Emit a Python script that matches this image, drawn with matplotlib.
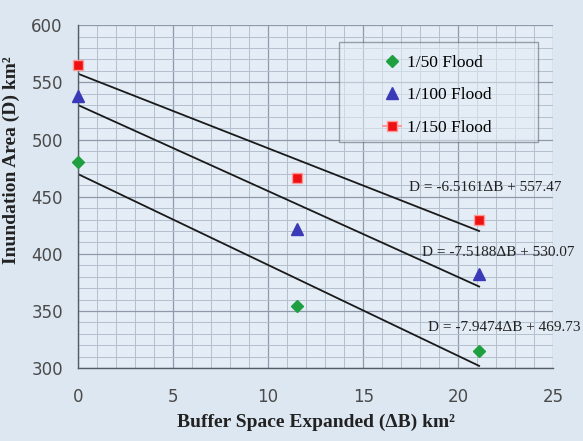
import numpy as np
import matplotlib
matplotlib.use("Agg")
import matplotlib.pyplot as plt
from matplotlib.ticker import MultipleLocator
from matplotlib.patches import Rectangle

# buffer space expanded (km2)
buffer_x = [0, 11.5, 21.1]
flood_50 = [480, 354, 315]
flood_100 = [538, 422, 382]
flood_150 = [565, 466, 430]

# trendline coefficients (slope, intercept) as printed on the chart
fit_50 = (-7.9474, 469.73)
fit_100 = (-7.5188, 530.07)
fit_150 = (-6.5161, 557.47)

bg = "#dde7f1"
fig = plt.figure(figsize=(5.83, 4.41), dpi=100, facecolor=bg)
ax = fig.add_axes([0.134, 0.165, 0.815, 0.778])
ax.set_facecolor("#e4edf6")

ax.set_xlim(0, 25)
ax.set_ylim(300, 600)
ax.xaxis.set_major_locator(MultipleLocator(5))
ax.xaxis.set_minor_locator(MultipleLocator(1))
ax.yaxis.set_major_locator(MultipleLocator(50))
ax.yaxis.set_minor_locator(MultipleLocator(10))
ax.grid(which="major", color="#8e99aa", linewidth=0.9)
ax.grid(which="minor", color="#b3bfcd", linewidth=0.7)
ax.set_axisbelow(True)

for s in ["top", "right"]:
    ax.spines[s].set_visible(False)
for s in ["left", "bottom"]:
    ax.spines[s].set_color("#555d66")
    ax.spines[s].set_linewidth(1.0)

ax.tick_params(which="both", length=0)
ax.tick_params(axis="x", pad=14, labelsize=12, labelcolor="#4a4a4a")
ax.tick_params(axis="y", pad=11, labelsize=12, labelcolor="#4a4a4a")

# trend lines
xl = np.array([0, buffer_x[-1]])
for slope, icpt in [fit_50, fit_100, fit_150]:
    ax.plot(xl, slope * xl + icpt, color="#1a1a1a", linewidth=1.3, zorder=2)

ax.plot(buffer_x, flood_50, linestyle="none", marker="D", markersize=6,
        color="#1fa040", label="1/50 Flood", zorder=3, clip_on=False)
ax.plot(buffer_x, flood_100, linestyle="none", marker="^", markersize=9,
        color="#3a3ab8", label="1/100 Flood", zorder=3, clip_on=False)
ax.plot(buffer_x, flood_150, linestyle="none", marker="s", markersize=7,
        color="#ee1111", markeredgecolor="#ff9a9a", label="1/150 Flood",
        zorder=3, clip_on=False)

serif = "Liberation Serif"
ax.text(17.4, 458, "D = -6.5161ΔB + 557.47", fontsize=11, family=serif,
        color="#222222", va="center")
ax.text(18.1, 401, "D = -7.5188ΔB + 530.07", fontsize=11, family=serif,
        color="#222222", va="center")
ax.text(18.4, 336, "D = -7.9474ΔB + 469.73", fontsize=11, family=serif,
        color="#222222", va="center")

# legend box drawn separately to match the wide frame
ax.add_patch(Rectangle((0.549, 0.659), 0.419, 0.291, transform=ax.transAxes,
                       facecolor="#e4edf6", edgecolor="#555d66", alpha=0.55,
                       linewidth=1.0, zorder=4))
handles, labels = ax.get_legend_handles_labels()
handles[2] = plt.Line2D([], [], color="#ff9a9a", marker="s", markersize=7,
                        markerfacecolor="#ee1111", markeredgecolor="#ff9a9a",
                        linewidth=1.5)
leg = ax.legend(handles, labels, loc="upper left", bbox_to_anchor=(0.642, 0.914),
                prop={"family": serif, "size": 12.5}, frameon=False,
                labelspacing=0.95, handlelength=1.0, handletextpad=0.4,
                borderpad=0, borderaxespad=0)
leg.set_zorder(5)

ax.set_xlabel("Buffer Space Expanded (ΔB) km²", family=serif, fontsize=14,
              fontweight="bold", color="#222222", labelpad=6)
ax.set_ylabel("Inundation Area (D) km²", family=serif, fontsize=14,
              fontweight="bold", color="#222222")
ax.yaxis.set_label_coords(-0.122, 0.606)

fig.savefig("out.png", dpi=100, facecolor=bg)
